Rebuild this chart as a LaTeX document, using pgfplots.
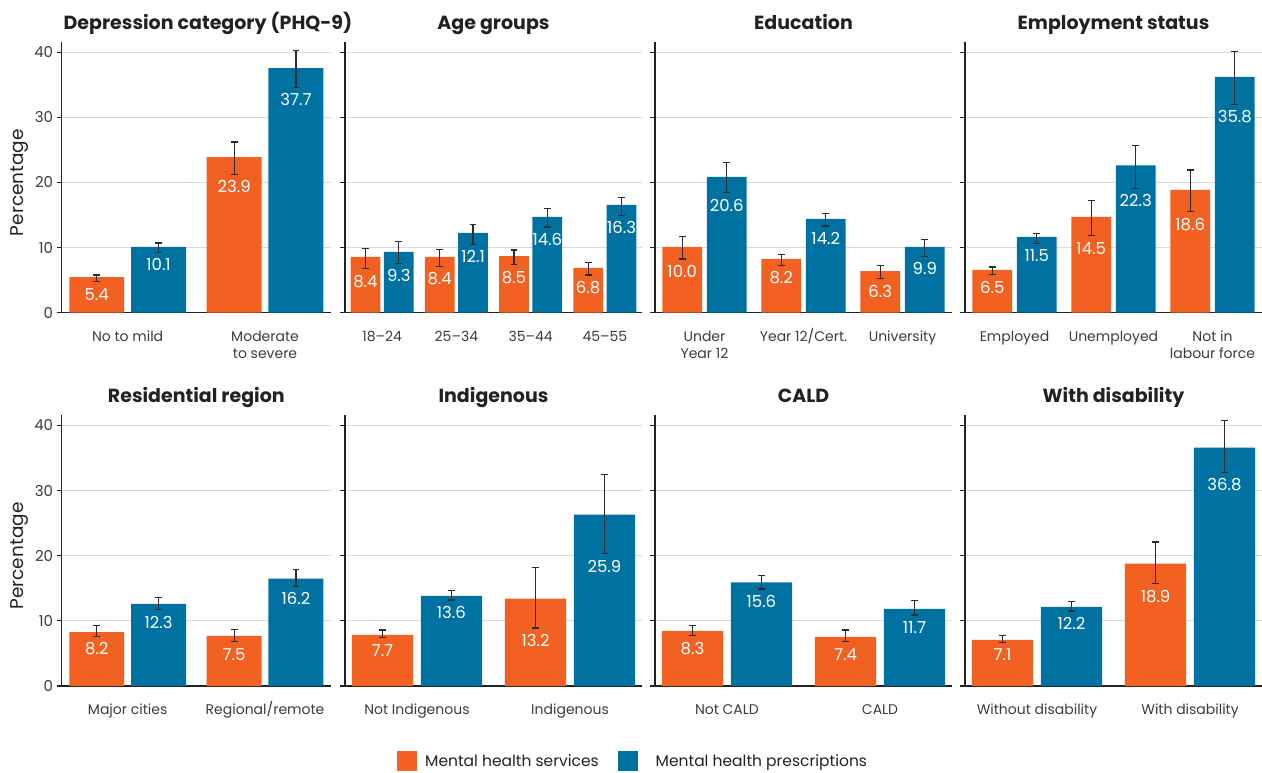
\documentclass[border=0pt]{standalone}
\usepackage{fontspec}
\setmainfont{Poppins}
\usepackage{pgfplots}
\usepackage{pgfplotstable}
\pgfplotsset{compat=1.18}
\definecolor{cO}{HTML}{F26122}
\definecolor{cB}{HTML}{0072A2}
\definecolor{cE}{HTML}{2B2B2B}
\definecolor{cT}{HTML}{3C3C3C}
\definecolor{cG}{HTML}{D9D9D9}
\definecolor{cA}{HTML}{222222}
\newcommand{\Q}{\vphantom{/Agj}}

% x o olo ohi olab b blo bhi blab
\pgfplotstableread{
x o olo ohi olab b blo bhi blab
0 5.45 4.76 5.79 5.4 10.1 9.27 10.7 10.1
1 23.9 21.25 26.2 23.9 37.55 34.6 40.3 37.7
}\tA
\pgfplotstableread{
x o olo ohi olab b blo bhi blab
0 8.55 6.76 9.88 8.4 9.32 7.58 10.9 9.3
1 8.55 7.12 9.73 8.4 12.24 10.5 13.6 12.1
2 8.7 7.37 9.63 8.5 14.7 13.16 16.0 14.6
3 6.89 5.79 7.68 6.8 16.54 14.96 17.67 16.3
}\tB
\pgfplotstableread{
x o olo ohi olab b blo bhi blab
0 10.09 8.25 11.73 10.0 20.85 18.4 23.1 20.6
1 8.25 7.3 8.9 8.2 14.4 13.3 15.26 14.2
2 6.4 5.2 7.2 6.3 10.09 8.66 11.2 9.9
}\tC
\pgfplotstableread{
x o olo ohi olab b blo bhi blab
0 6.56 5.84 7.0 6.5 11.63 10.65 12.2 11.5
1 14.7 11.8 17.2 14.5 22.6 19.1 25.66 22.3
2 18.85 15.5 21.9 18.6 36.2 32.0 40.1 35.8
}\tD
\pgfplotstableread{
x o olo ohi olab b blo bhi blab
0 8.26 7.59 9.23 8.2 12.6 11.7 13.6 12.3
1 7.7 6.8 8.7 7.5 16.5 15.3 17.9 16.2
}\tE
\pgfplotstableread{
x o olo ohi olab b blo bhi blab
0 7.85 7.4 8.6 7.7 13.85 13.2 14.7 13.6
1 13.4 8.9 18.2 13.2 26.3 20.3 32.5 25.9
}\tF
\pgfplotstableread{
x o olo ohi olab b blo bhi blab
0 8.46 7.7 9.33 8.3 15.9 14.9 17.0 15.6
1 7.54 6.8 8.6 7.4 11.85 10.9 13.1 11.7
}\tG
\pgfplotstableread{
x o olo ohi olab b blo bhi blab
0 7.08 6.7 7.7 7.1 12.15 11.5 13.0 12.2
1 18.8 15.7 22.1 18.9 36.6 32.8 40.7 36.8
}\tH

\pgfplotsset{
  panel/.style={
    scale only axis, height=271pt, ymin=0, ymax=41.6,
    axis x line=bottom, axis y line=left,
    axis line style={-, line width=1.3pt, draw=cA},
    ytick={0,10,20,30,40}, yticklabels={},
    ymajorgrids, grid style={cG, line width=0.9pt},
    tick align=outside, major tick length=5pt,
    ytick style={line width=1.1pt, draw=cA},
    xtick style={draw=none},
    tick label style={font=\fontsize{14}{16.7}\selectfont, text=cT},
    yticklabel style={font=\fontsize{15}{17}\selectfont},
    xticklabel style={align=center, yshift=-7pt},
    title style={font=\bfseries\fontsize{19}{22}\selectfont, text=cA, at={(0.5,1)}, anchor=base, yshift=6pt},
  },
  first/.style={yticklabels={0,10,20,30,40},
    ylabel={Percentage},
    ylabel style={font=\fontsize{18.5}{20}\selectfont, text=cA, at={(axis description cs:-0.156,0.48)}, anchor=center}},
}

\newcommand{\bars}[1]{%
\addplot[ybar, bar width=0.4, bar shift=0pt, fill=cO, draw=none, forget plot,
  error bars/.cd, y dir=both, y explicit,
  error bar style={line width=1.2pt, draw=cE},
  error mark options={rotate=90, mark size=3.4pt, line width=1.2pt, draw=cE}]
  table[x expr=\thisrow{x}-0.225, y=o, y error plus expr=\thisrow{ohi}-\thisrow{o}, y error minus expr=\thisrow{o}-\thisrow{olo}] {#1};
\addplot[ybar, bar width=0.4, bar shift=0pt, fill=cB, draw=none, forget plot,
  error bars/.cd, y dir=both, y explicit,
  error bar style={line width=1.2pt, draw=cE},
  error mark options={rotate=90, mark size=3.4pt, line width=1.2pt, draw=cE}]
  table[x expr=\thisrow{x}+0.225, y=b, y error plus expr=\thisrow{bhi}-\thisrow{b}, y error minus expr=\thisrow{b}-\thisrow{blo}] {#1};
\addplot[draw=none, mark=none, forget plot, nodes near coords, point meta=explicit symbolic,
  nodes near coords style={font=\fontsize{16.5}{19}\selectfont, text=white, anchor=center, yshift=-12.5pt}]
  table[x expr=\thisrow{x}-0.225, y=olo, meta=olab] {#1};
\addplot[draw=none, mark=none, forget plot, nodes near coords, point meta=explicit symbolic,
  nodes near coords style={font=\fontsize{16.5}{19}\selectfont, text=white, anchor=center, yshift=-12.5pt}]
  table[x expr=\thisrow{x}+0.225, y=blo, meta=blab] {#1};
}

\begin{document}
\begin{tikzpicture}
\useasboundingbox (0,0) rectangle (1262pt,772pt);
% ---- top row
\begin{axis}[panel, first, at={(61.7pt,459.3pt)}, anchor=south west, width=269.3pt,
  xmin=-0.48, xmax=1.48, xtick={0,1}, xticklabels={\Q No to mild,{\Q Moderate\\to severe}},
  title={Depression category (PHQ-9)}, title style={at={(0.543,1)}}]
\bars{\tA}
\end{axis}
\begin{axis}[panel, at={(345pt,459.3pt)}, anchor=south west, width=297pt,
  xmin=-0.5, xmax=3.5, xtick={0,1,2,3}, xticklabels={\Q 18--24,\Q 25--34,\Q 35--44,\Q 45--55},
  title={Age groups}]
\bars{\tB}
\end{axis}
\begin{axis}[panel, at={(655pt,459.3pt)}, anchor=south west, width=297pt,
  xmin=-0.5, xmax=2.5, xtick={0,1,2}, xticklabels={{\Q Under\\Year 12},\Q Year 12/Cert.,\Q University},
  title={Education}]
\bars{\tC}
\end{axis}
\begin{axis}[panel, at={(965pt,459.3pt)}, anchor=south west, width=297pt,
  xmin=-0.5, xmax=2.5, xtick={0,1,2}, xticklabels={\Q Employed,\Q Unemployed,{\Q Not in\\labour force}},
  title={Employment status}]
\bars{\tD}
\end{axis}
% ---- bottom row
\begin{axis}[panel, first, at={(61.7pt,86pt)}, anchor=south west, width=269.3pt,
  xmin=-0.48, xmax=1.48, xtick={0,1}, xticklabels={\Q Major cities,\Q Regional/remote},
  title={Residential region}]
\bars{\tE}
\end{axis}
\begin{axis}[panel, at={(345pt,86pt)}, anchor=south west, width=297pt,
  xmin=-0.47, xmax=1.47, xtick={0,1}, xticklabels={\Q Not Indigenous,\Q Indigenous},
  title={Indigenous},
  legend columns=2,
  legend style={at={(axis description cs:0.175,-0.2768)}, anchor=west, draw=none, fill=none,
    inner sep=0pt, font=\fontsize{15.5}{18}\selectfont, text=cA,
    /tikz/every even column/.append style={column sep=17pt}},
  legend image code/.code={\fill[#1] (0pt,-10pt) rectangle (20pt,10pt);}]
\addlegendimage{fill=cO, draw=none}
\addlegendimage{fill=cB, draw=none}
\bars{\tF}
\legend{\hspace{6pt}Mental health services,\hspace{16pt}Mental health prescriptions}
\end{axis}
\begin{axis}[panel, at={(655pt,86pt)}, anchor=south west, width=297pt,
  xmin=-0.47, xmax=1.47, xtick={0,1}, xticklabels={\Q Not CALD,\Q CALD},
  title={CALD}]
\bars{\tG}
\end{axis}
\begin{axis}[panel, at={(965pt,86pt)}, anchor=south west, width=297pt,
  xmin=-0.47, xmax=1.47, xtick={0,1}, xticklabels={\Q Without disability,\Q With disability},
  title={With disability}]
\bars{\tH}
\end{axis}
\end{tikzpicture}
\end{document}
